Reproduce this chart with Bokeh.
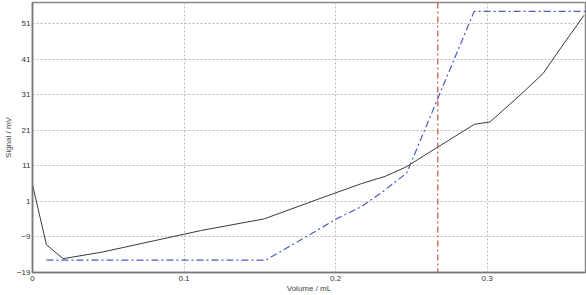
from bokeh.plotting import figure
from bokeh.models import FixedTicker, Range1d, Span
from bokeh.embed import file_html
from bokeh.resources import INLINE

# Data
signal_volume = [0, 0.0092, 0.0202, 0.0455, 0.111, 0.153, 0.187, 0.217, 0.233, 0.2465, 0.2675, 0.2916, 0.302, 0.322, 0.337, 0.346, 0.364]
signal_mv = [5.7, -11.2, -15.1, -13.3, -7.2, -3.9, 1.4, 6.0, 8.1, 10.7, 16.3, 22.7, 23.4, 31.0, 37.0, 42.6, 53.4]

deriv_volume = [0.0092, 0.154, 0.182, 0.2015, 0.217, 0.231, 0.247, 0.2915, 0.366]
deriv_mv = [-15.5, -15.5, -8.6, -3.7, -0.5, 3.7, 9.0, 54.5, 54.5]

endpoint_volume = 0.2675

x_ticks = [0, 0.1, 0.2, 0.3]
y_ticks = [-19, -9, 1, 11, 21, 31, 41, 51]

p = figure(width=586, height=295, output_backend="svg", toolbar_location=None,
           x_range=Range1d(0, 0.365), y_range=Range1d(-19, 57),
           min_border_left=1, min_border_right=1, min_border_top=2, min_border_bottom=0)

p.line(signal_volume, signal_mv, line_color="#3a3a3a", line_width=1)
p.line(deriv_volume, deriv_mv, line_color="#4a5cc0", line_width=1.2, line_dash="7 3 2 3")
p.add_layout(Span(location=endpoint_volume, dimension="height", line_color="#c8553d",
                  line_width=1.2, line_dash="6 3 2 3"))

p.xaxis.ticker = FixedTicker(ticks=x_ticks)
p.yaxis.ticker = FixedTicker(ticks=y_ticks)
p.xaxis.axis_label = "Volume / mL"
p.yaxis.axis_label = "Signal / mV"
for ax in (p.xaxis, p.yaxis):
    ax.axis_label_text_font = "Liberation Sans"
    ax.axis_label_text_font_style = "normal"
    ax.axis_label_text_font_size = "8px"
    ax.axis_label_text_color = "#444444"
    ax.major_label_text_font = "Liberation Sans"
    ax.major_label_text_font_size = "8px"
    ax.major_label_text_color = "#333333"
    ax.major_tick_out = 0
    ax.major_tick_in = 0
    ax.minor_tick_out = 0
    ax.minor_tick_in = 0
    ax.axis_line_color = "#777777"
    ax.axis_line_width = 1.5
p.xaxis.major_label_text_align = "left"
p.xaxis.major_label_standoff = 3
p.xaxis.axis_label_standoff = 0
p.yaxis.major_label_standoff = 2
p.yaxis.axis_label_standoff = 1

p.xgrid.ticker = FixedTicker(ticks=[0.1, 0.2, 0.3])
p.ygrid.ticker = FixedTicker(ticks=[-9, 1, 11, 21, 31, 41, 51])
for g in (p.xgrid, p.ygrid):
    g.grid_line_color = "#bbbbbb"
    g.grid_line_dash = "2 2"
    g.grid_line_width = 1

p.outline_line_color = "#888888"
p.outline_line_width = 1.5
p.background_fill_color = "white"
p.border_fill_color = "white"

open("out.html", "w").write(file_html(p, INLINE))
